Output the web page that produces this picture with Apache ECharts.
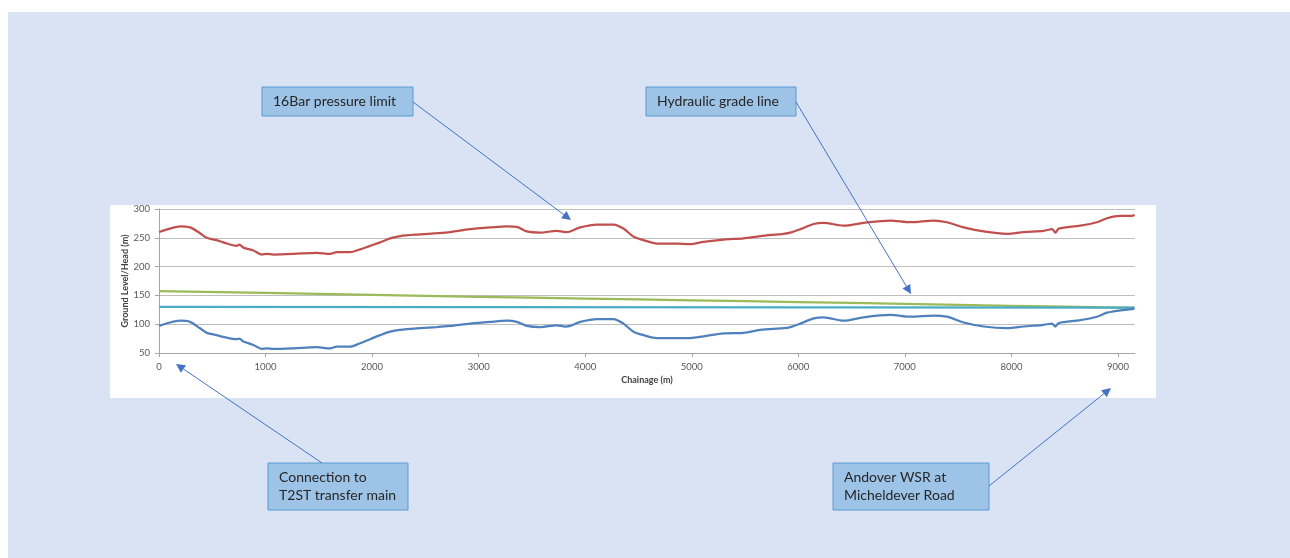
<!DOCTYPE html>
<html>
<head>
<meta charset="utf-8">
<script src="https://cdn.jsdelivr.net/npm/echarts@6/dist/echarts.min.js"></script>
<style>
  html, body { margin: 0; padding: 0; background: #ffffff; }
  #chart { width: 1290px; height: 558px; }
</style>
</head>
<body>
<div id="chart"></div>
<script>
// Chainage along the pipeline route (m)
const chainage = [0, 103, 197, 291, 385, 448, 541, 604, 729, 754, 792, 886, 964, 1011, 1073, 1261, 1480, 1606, 1668, 1793,
  1887, 1981, 2075, 2169, 2263, 2451, 2607, 2732, 2920, 3108, 3265, 3359, 3452, 3577, 3734, 3812, 3859, 3953, 4110, 4265,
  4359, 4453, 4547, 4673, 4861, 4986, 5111, 5299, 5487, 5643, 5862, 5925, 6019, 6144, 6237, 6425, 6613, 6864, 7052, 7270,
  7396, 7552, 7740, 7959, 8115, 8303, 8381, 8413, 8444, 8648, 8804, 8897, 9023, 9132, 9155];

// Ground level along the route (m)
const groundLevel = [97, 103, 106, 104, 93, 85, 81, 78, 74, 75, 70, 64, 57, 58, 57, 58, 60, 58, 61, 61,
  67, 74, 81, 87, 90, 93, 95, 97, 101, 104, 106, 104, 97, 95, 98, 96, 97, 104, 109, 109,
  101, 87, 81, 76, 76, 76, 79, 84, 85, 90, 93, 95, 101, 110, 112, 106, 112, 116, 113, 115,
  113, 103, 96, 93, 96, 99, 101, 96, 102, 107, 113, 120, 124, 126, 128];

// 16 bar pressure limit head (m)
const pressureLimit = [260, 266, 270, 268, 258, 250, 246, 242, 236, 238, 233, 228, 221, 222, 221, 222, 224, 222, 225, 225,
  230, 236, 242, 249, 253, 256, 258, 260, 265, 268, 270, 269, 261, 259, 262, 260, 261, 268, 273, 273,
  266, 252, 246, 240, 240, 239, 243, 247, 249, 253, 257, 259, 265, 274, 276, 271, 276, 280, 277, 280,
  277, 268, 261, 257, 260, 262, 265, 259, 266, 271, 277, 284, 288, 288, 290];

// Hydraulic grade line (m)
const hglChainage = [0, 1000, 2000, 3000, 4000, 5000, 6000, 7000, 8000, 9000, 9155];
const hglHead = [157.5, 154.3, 151, 147.5, 144.5, 141.5, 138.5, 135.3, 132, 128.8, 128.3];

// Reservoir top water level (m)
const twlChainage = [0, 9155];
const twlHead = [130, 128.7];

// Axis ranges
const xTicks = { min: 0, max: 9160, step: 1000 };
const yTicks = { min: 50, max: 300, step: 50 };

const pairs = (xs, ys) => xs.map((x, i) => [x, ys[i]]);

const FONT = 'Lato, "Noto Sans", sans-serif';
const ARROW = '#4472c4';

function arrow(x1, y1, x2, y2) {
  const dx = x2 - x1, dy = y2 - y1, len = Math.hypot(dx, dy);
  const ux = dx / len, uy = dy / len, hl = 9, hw = 4.5;
  const bx = x2 - ux * hl, by = y2 - uy * hl;
  return [
    { type: 'line', z: 100, shape: { x1: x1, y1: y1, x2: bx, y2: by }, style: { stroke: ARROW, lineWidth: 1 } },
    { type: 'polygon', z: 100, shape: { points: [[x2, y2], [bx - uy * hw, by + ux * hw], [bx + uy * hw, by - ux * hw]] },
      style: { fill: ARROW } }
  ];
}

function callout(x, y, w, h, text) {
  return [
    { type: 'rect', z: 100, shape: { x: x, y: y, width: w, height: h },
      style: { fill: '#9dc3e6', stroke: '#5b9bd5', lineWidth: 1 } },
    { type: 'text', z: 101, x: x + 11, y: y + h / 2,
      style: { text: text, font: '14px ' + FONT, fill: '#262626', verticalAlign: 'middle', lineHeight: 18 } }
  ];
}

const graphics = [
  { type: 'rect', z: -10, silent: true, shape: { x: 8, y: 12, width: 1282, height: 546 }, style: { fill: '#dae3f3' } },
  { type: 'rect', z: -9, silent: true, shape: { x: 110, y: 205, width: 1046, height: 193 }, style: { fill: '#ffffff' } },
  ...callout(262, 87, 151, 29, '16Bar pressure limit'),
  ...arrow(413, 102, 571, 220),
  ...callout(646, 87, 150, 29, 'Hydraulic grade line'),
  ...arrow(796, 102, 911, 294),
  ...callout(268, 463, 140, 47, 'Connection to\nT2ST transfer main'),
  ...arrow(322, 463, 176, 364),
  ...callout(833, 463, 156, 47, 'Andover WSR at\nMicheldever Road'),
  ...arrow(989, 486, 1111, 388)
];

const chart = echarts.init(document.getElementById('chart'), null, { renderer: 'canvas' });
chart.setOption({
  animation: false,
  backgroundColor: '#ffffff',
  graphic: graphics,
  grid: { left: 159, right: 155, top: 209, bottom: 205 },
  xAxis: {
    type: 'value', min: xTicks.min, max: xTicks.max, interval: xTicks.step,
    name: 'Chainage (m)', nameLocation: 'middle', nameGap: 23, nameMoveOverlap: false,
    nameTextStyle: { fontFamily: FONT, fontWeight: 'bold', fontSize: 9, color: '#404040' },
    axisLine: { lineStyle: { color: '#a6a6a6', width: 1 } },
    axisTick: { show: true, length: 4, lineStyle: { color: '#a6a6a6' } },
    axisLabel: { fontFamily: FONT, fontSize: 9.5, color: '#595959', margin: 9, showMaxLabel: false,
      formatter: v => String(v) },
    splitLine: { show: false }
  },
  yAxis: {
    type: 'value', min: yTicks.min, max: yTicks.max, interval: yTicks.step,
    name: 'Ground Level/Head (m)', nameLocation: 'middle', nameGap: 29, nameRotate: 90, nameMoveOverlap: false,
    nameTextStyle: { fontFamily: FONT, fontWeight: 'bold', fontSize: 9, color: '#404040' },
    axisLine: { show: true, lineStyle: { color: '#a6a6a6', width: 1 } },
    axisTick: { show: true, length: 4, lineStyle: { color: '#a6a6a6' } },
    axisLabel: { fontFamily: FONT, fontSize: 9.5, color: '#595959', margin: 9 },
    splitLine: { show: true, lineStyle: { color: '#bfbfbf', width: 1 } }
  },
  series: [
    { name: '16Bar pressure limit', type: 'line', data: pairs(chainage, pressureLimit), showSymbol: false, smooth: 0.3,
      lineStyle: { color: '#c0504d', width: 2.25 }, itemStyle: { color: '#c0504d' } },
    { name: 'Hydraulic grade line', type: 'line', data: pairs(hglChainage, hglHead), showSymbol: false, smooth: 0.3,
      lineStyle: { color: '#9bbb59', width: 2.25 }, itemStyle: { color: '#9bbb59' } },
    { name: 'Top water level', type: 'line', data: pairs(twlChainage, twlHead), showSymbol: false,
      lineStyle: { color: '#4bacc6', width: 2.25 }, itemStyle: { color: '#4bacc6' } },
    { name: 'Ground level', type: 'line', data: pairs(chainage, groundLevel), showSymbol: false, smooth: 0.3,
      lineStyle: { color: '#4f81bd', width: 2.25 }, itemStyle: { color: '#4f81bd' } }
  ]
});
</script>
</body>
</html>
